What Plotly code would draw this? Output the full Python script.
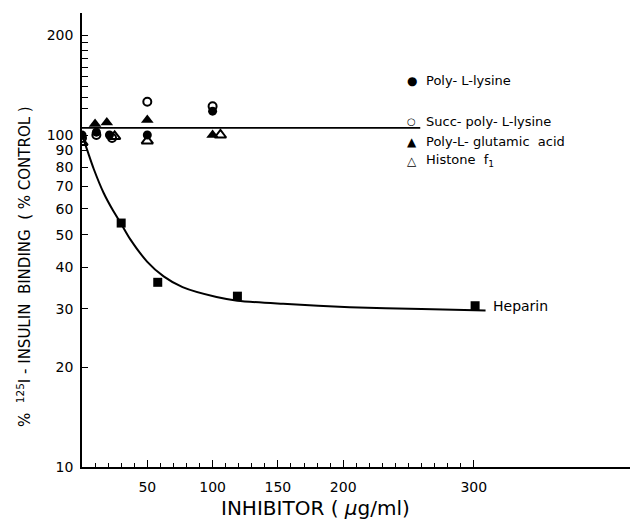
import plotly.graph_objects as go
import numpy as np

# ---- data ----
plys_x = [0, 11, 21, 50, 100]
plys_y = [100, 102, 100, 100, 118]
succ_x = [0, 11, 23, 50, 100]
succ_y = [98, 100, 98, 126, 122]
glu_x = [10, 19, 50, 100]
glu_y = [108, 109, 111, 100]
hist_x = [0, 25, 50, 106]
hist_y = [95, 99, 96, 100]
hep_x = [30, 58, 119, 301]
hep_y = [54.3, 36.0, 32.7, 30.6]
curve_x = [0, 4, 9, 16.5, 24, 30, 37, 50, 62.5, 77, 103, 119, 154, 205, 260, 309]
curve_y = [100, 90, 79, 67, 59, 54, 48.5, 41.5, 37.5, 34.8, 32.5, 31.7, 31.0, 30.3, 29.9, 29.6]
ref_x = [0, 259]
ref_y = [105, 105]

y_ticks = [10, 20, 30, 40, 50, 60, 70, 80, 90, 100, 200]
y_minor = [120, 130, 140, 150, 160, 170, 180, 190]
x_ticks = [50, 100, 150, 200, 300]
x_tick_text = ["50", "100", "150", "200", "300"]
x_minor = [10, 20, 30, 40, 60, 70, 80, 90, 110, 120, 130, 140, 160, 170, 180, 190,
           210, 220, 230, 240, 250, 260, 270, 280, 290]

legend_labels = ["Poly- L-lysine", "Succ- poly- L-lysine", "Poly-L- glutamic  acid", "Histone  f<sub>1</sub>"]
legend_symbols = ["●", "○", "▲", "△"]
legend_symsize = [12, 10, 12, 12]

FONT = "DejaVu Sans"
W, H = 634, 524
L, R, T, B = 82, 4, 13, 57

fig = go.Figure()
fig.add_trace(go.Scatter(x=ref_x, y=ref_y, mode="lines", line=dict(color="black", width=1.8)))
fig.add_trace(go.Scatter(x=curve_x, y=curve_y, mode="lines",
                         line=dict(color="black", width=2, shape="spline", smoothing=0.8)))
fig.add_trace(go.Scatter(x=hep_x, y=hep_y, mode="markers",
                         marker=dict(symbol="square", size=9, color="black")))
fig.add_trace(go.Scatter(x=glu_x, y=glu_y, mode="markers",
                         marker=dict(symbol="triangle-up", size=11, color="black")))
fig.add_trace(go.Scatter(x=hist_x, y=hist_y, mode="markers",
                         marker=dict(symbol="triangle-up-open", size=10, color="black", line=dict(width=2))))
fig.add_trace(go.Scatter(x=plys_x, y=plys_y, mode="markers",
                         marker=dict(symbol="circle", size=9, color="black")))
fig.add_trace(go.Scatter(x=succ_x, y=succ_y, mode="markers",
                         marker=dict(symbol="circle-open", size=8, color="black", line=dict(width=2))))

pw = W - L - R
ph = H - T - B
xmax = pw / 1.306
ymax = 1 + ph / 332.0

fig.update_layout(
    width=W, height=H, margin=dict(l=L, r=R, t=T, b=B),
    paper_bgcolor="white", plot_bgcolor="white", showlegend=False,
    font=dict(family=FONT, color="black", size=14),
    xaxis=dict(range=[0, xmax], showgrid=False, zeroline=False, showline=True,
               linecolor="black", linewidth=1.5, ticks="inside", ticklen=7, tickwidth=1.3,
               tickcolor="black", tickvals=x_ticks, ticktext=x_tick_text, ticklabelstandoff=6,
               tickfont=dict(size=14),
               minor=dict(tickvals=x_minor, ticks="inside", ticklen=4, tickwidth=1.2, tickcolor="black")),
    yaxis=dict(type="log", range=[1, ymax], showgrid=False, zeroline=False, showline=True,
               linecolor="black", linewidth=1.5, ticks="inside", ticklen=6, tickwidth=1.3,
               tickcolor="black", tickvals=y_ticks, ticktext=[str(v) for v in y_ticks],
               ticklabelstandoff=4, tickfont=dict(size=14),
               minor=dict(tickvals=y_minor, ticks="inside", ticklen=6, tickwidth=1.2, tickcolor="black")),
)

def px2paper(px, py):
    return (px - L) / pw, (H - B - py) / ph

ann = []
rows_py = [80.7, 121.7, 141.7, 160.5]
for sym, ss, lab, py in zip(legend_symbols, legend_symsize, legend_labels, rows_py):
    sx, sy = px2paper(411.7, py)
    tx, _ = px2paper(424, py)
    ann.append(dict(xref="paper", yref="paper", x=sx, y=sy, text=sym, showarrow=False,
                    xanchor="center", yanchor="middle", font=dict(size=ss)))
    ann.append(dict(xref="paper", yref="paper", x=tx, y=sy, text=lab, showarrow=False,
                    xanchor="left", yanchor="middle", font=dict(size=13)))

ann.append(dict(x=hep_x[-1] + 12, y=np.log10(hep_y[-1]), xref="x", yref="y", text="Heparin",
                showarrow=False, xanchor="left", yanchor="middle", font=dict(size=14)))

yx, yy = px2paper(24, 267)
ann.append(dict(xref="paper", yref="paper", x=yx, y=yy, textangle=-90,
                text="%  <sup>125</sup>I - INSULIN  BINDING  ( % CONTROL )", showarrow=False,
                xanchor="center", yanchor="middle", font=dict(size=15)))
xx, xy = px2paper(315, 508)
ann.append(dict(xref="paper", yref="paper", x=xx, y=xy, text="INHIBITOR ( <i>μ</i>g/ml)",
                showarrow=False, xanchor="center", yanchor="middle", font=dict(size=20)))

fig.update_layout(annotations=ann)
fig.write_html("out.html", config={"displayModeBar": False},
               post_script="document.body.style.margin='0';document.body.style.overflow='hidden';")
